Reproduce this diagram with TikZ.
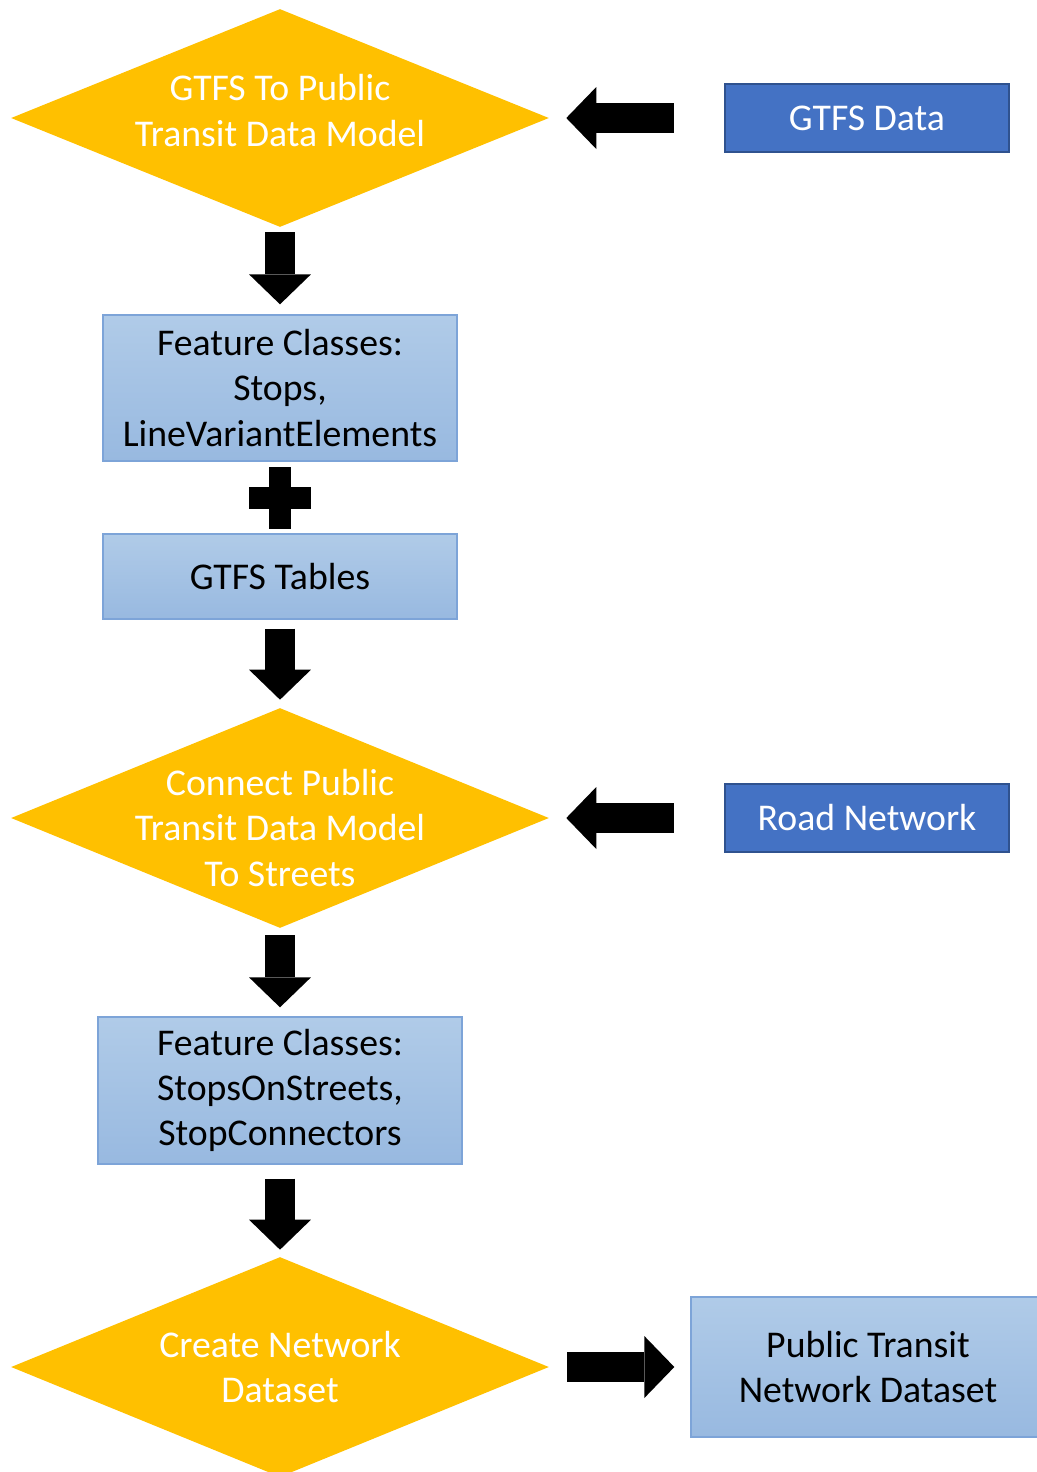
\documentclass[tikz,border=0pt]{standalone}
\usepackage{fontspec}
\setmainfont{Carlito}
\usetikzlibrary{shapes.geometric}
\usetikzlibrary{arrows.meta}

\definecolor{gold}{HTML}{FFC000}
\definecolor{darkblue}{HTML}{4472C4}
\definecolor{navyline}{HTML}{2F528F}
\definecolor{paletop}{HTML}{B0CBE8}
\definecolor{palebottom}{HTML}{98B9E0}
\definecolor{boxline}{HTML}{7DA4D8}

\newcommand{\flowfont}{\fontsize{21.5}{25.8}\selectfont}

\tikzset{
  decision/.style={diamond, fill=gold, inner sep=0pt,
    minimum width=10.76cm, minimum height=4.36cm},
  dtext/.style={text=white, align=center, font=\flowfont},
  inputbox/.style={rectangle, draw=navyline, line width=1.2pt, fill=darkblue,
    text=white, font=\flowfont, minimum width=5.68cm, minimum height=1.36cm},
  stepbox/.style={rectangle, draw=boxline, line width=0.8pt,
    top color=paletop, bottom color=palebottom,
    align=center, font=\flowfont, minimum width=7.08cm},
  bigarrow/.style={line width=0.6cm,
    -{Triangle[length=0.6cm, width=1.24cm, line width=0pt]}}
}

\begin{document}
\begin{tikzpicture}[x=0.02cm, y=-0.02cm]

\useasboundingbox (0,0) rectangle (1036,1472);

% decisions
\node[decision] (d1) at (280,118) {};
\node[dtext] (d1t) at ([yshift=0.15cm]d1.center) {GTFS To Public\\Transit Data Model};
\node[decision, minimum height=4.4cm] (d2) at (280,818) {};
\node[dtext] (d2t) at ([yshift=-0.2cm]d2.center) {Connect Public\\Transit Data Model\\To Streets};
\node[decision, minimum height=4.4cm] (d3) at (280,1367) {};
\node[dtext] (d3t) at (d3.center) {Create Network\\Dataset};

% inputs
\node[inputbox] (gd) at (867,118) {GTFS Data};
\node[inputbox] (rn) at (867,818) {Road Network};

% intermediate data
\node[stepbox, minimum height=2.92cm] (b1) at (280,388) {Feature Classes:\\Stops,\\LineVariantElements};
\node[stepbox, minimum height=1.7cm] (b2) at (280,576.5) {GTFS Tables};
\node[stepbox, minimum width=7.28cm, minimum height=2.94cm] (b3) at (280,1090.5) {Feature Classes:\\StopsOnStreets,\\StopConnectors};
\node[stepbox, minimum height=2.8cm] (pt) at (868,1367) {Public Transit\\Network Dataset};

% block arrows
\draw[bigarrow, shorten <=1cm, shorten >=0.34cm] (gd.west) -- (d1.east);
\draw[bigarrow, shorten <=1cm, shorten >=0.34cm] (rn.west) -- (d2.east);
\draw[bigarrow, shorten <=0.36cm, shorten >=0.32cm] (d3.east) -- (pt.west);
\draw[bigarrow, shorten <=0.1cm, shorten >=0.2cm] (d1.south) -- (b1.north);
\draw[bigarrow, shorten <=0.18cm, shorten >=0.16cm] (b2.south) -- (d2.north);
\draw[bigarrow, shorten <=0.14cm, shorten >=0.18cm] (d2.south) -- (b3.north);
\draw[bigarrow, shorten <=0.28cm, shorten >=0.14cm] (b3.south) -- (d3.north);

% plus between the two tables
\path (b1.south) -- (b2.north) coordinate[midway] (plus);
\fill ([xshift=-0.62cm, yshift=-0.22cm]plus) rectangle ([xshift=0.62cm, yshift=0.22cm]plus);
\fill ([xshift=-0.22cm, yshift=-0.62cm]plus) rectangle ([xshift=0.22cm, yshift=0.62cm]plus);

\end{tikzpicture}
\end{document}
